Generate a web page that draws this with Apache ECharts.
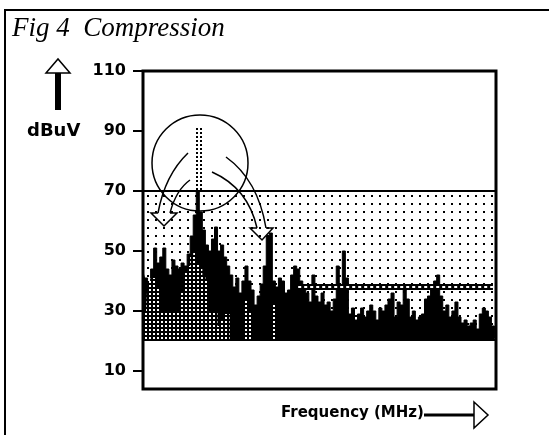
<!DOCTYPE html>
<html>
<head>
<meta charset="utf-8">
<script src="https://cdn.jsdelivr.net/npm/echarts@6/dist/echarts.min.js"></script>
<style>
  html, body { margin: 0; background: #fff; }
  #main { width: 549px; height: 435px; }
</style>
</head>
<body>
<div id="main"></div>
<script>
// spectrum level per frequency bin (dBuV), read left to right
var levels = [
  43, 41, 38, 44, 51, 46, 48, 51, 44, 42, 47, 45, 44, 46, 45, 49, 55, 62, 70, 63,
  57, 52, 50, 54, 58, 50, 52, 48, 45, 42, 38, 41, 36, 40, 45, 40, 37, 32, 35, 39,
  45, 55, 56, 40, 38, 41, 40, 36, 37, 42, 45, 44, 40, 38, 36, 33, 42, 35, 33, 36,
  32, 33, 30, 34, 45, 38, 50, 41, 29, 31, 27, 29, 31, 28, 30, 32, 30, 27, 31, 30,
  32, 34, 36, 28, 33, 32, 37, 34, 28, 30, 27, 28, 29, 34, 35, 37, 40, 42, 35, 30,
  32, 28, 30, 33, 28, 26, 27, 25, 26, 27, 24, 29, 31, 30, 28, 25, 21
];
// shaded (compressed) part of the signal
var compressed = [
  30, 30, 40, 41, 41, 38, 30, 30, 30, 30, 30, 30, 30, 36, 43, 45, 48, 50, 46, 44,
  42, 40, 30, 30, 30, 25, 27, 29, 29, null, null, null, null, null, 34, 30, null, null, null, null,
  null, null, null, 32, 33
];
var yTicks = [10, 30, 50, 70, 90, 110];
var floorLevel = 20;
var limitLevel = 70;
var avgLevel = 38;
var avgStart = 51;

var bins = levels.map(function (v, i) { return i; });

function pattern(size, draw) {
  var c = document.createElement('canvas');
  c.width = size; c.height = size;
  draw(c.getContext('2d'));
  return { image: c, repeat: 'repeat' };
}
var dots = pattern(8, function (ctx) {
  ctx.fillStyle = '#000';
  ctx.fillRect(3, 3, 2, 2);
});
var checker = pattern(4, function (ctx) {
  ctx.fillStyle = '#000';
  ctx.fillRect(0, 0, 4, 4);
  ctx.fillStyle = '#fff';
  ctx.fillRect(1, 1, 2, 2);
});

var myChart = echarts.init(document.getElementById('main'));

var sans = '"DejaVu Sans", Verdana, sans-serif';
var ink = { fill: 'none', stroke: '#000', lineWidth: 1.5 };

var option = {
  animation: false,
  grid: {
    left: 143, right: 53, top: 71, bottom: 46,
    show: true, borderColor: '#000', borderWidth: 3, backgroundColor: '#fff'
  },
  xAxis: {
    type: 'category',
    data: bins,
    boundaryGap: false,
    axisLine: { show: false },
    axisTick: { show: false },
    axisLabel: { show: false },
    splitLine: { show: false }
  },
  yAxis: {
    type: 'value',
    min: 4,
    max: 110,
    axisLine: { show: false },
    splitLine: { show: false },
    axisTick: {
      show: true, length: 10, customValues: yTicks,
      lineStyle: { color: '#000', width: 2 }
    },
    axisLabel: {
      customValues: yTicks, margin: 17,
      color: '#000', fontWeight: 'bold', fontSize: 16, fontFamily: sans
    }
  },
  series: [
    {
      // dotted band between floor and limit
      type: 'line', data: [], z: 1, silent: true,
      markArea: {
        silent: true,
        itemStyle: { color: dots },
        data: [[{ yAxis: floorLevel }, { yAxis: limitLevel }]]
      }
    },
    {
      name: 'spectrum',
      type: 'line', step: 'middle', data: levels, z: 2,
      symbol: 'none', silent: true,
      lineStyle: { color: '#000', width: 1 },
      areaStyle: { color: '#000', opacity: 1, origin: floorLevel }
    },
    {
      name: 'compressed',
      type: 'line', step: 'middle', data: compressed, z: 3,
      symbol: 'none', silent: true, connectNulls: false,
      lineStyle: { width: 0 },
      areaStyle: { color: checker, opacity: 1, origin: floorLevel }
    },
    {
      type: 'line', data: [], z: 4, silent: true,
      markLine: {
        silent: true,
        symbol: ['none', 'none'],
        label: { show: false },
        data: [
          { yAxis: limitLevel, lineStyle: { color: '#000', width: 2, type: 'solid' } },
          [
            { coord: [avgStart, avgLevel], lineStyle: { color: '#000', width: 6, type: 'solid' } },
            { coord: [levels.length - 2, avgLevel] }
          ],
          [
            { coord: [avgStart, avgLevel], lineStyle: { color: '#fff', width: 2, type: [3, 3] } },
            { coord: [levels.length - 2, avgLevel] }
          ]
        ]
      }
    }
  ],
  graphic: [
    { type: 'rect', shape: { x: 5, y: 10, width: 700, height: 600 },
      style: { fill: 'none', stroke: '#000', lineWidth: 2 }, silent: true },
    { type: 'text', x: 12, y: 15,
      style: { text: 'Fig 4  Compression', fill: '#000',
        font: 'italic 27px "Liberation Serif", "Times New Roman", serif' } },
    { type: 'text', x: 27, y: 122,
      style: { text: 'dBuV', fill: '#000', font: 'bold 18px ' + sans } },
    { type: 'rect', shape: { x: 55, y: 73, width: 6, height: 37 }, style: { fill: '#000' } },
    { type: 'polygon', shape: { points: [[46, 73], [58, 59], [70, 73]] },
      style: { fill: '#fff', stroke: '#000', lineWidth: 1.5 } },
    { type: 'text', x: 281, y: 406,
      style: { text: 'Frequency (MHz)', fill: '#000', font: 'bold 15px ' + sans } },
    { type: 'line', shape: { x1: 424, y1: 415, x2: 474, y2: 415 },
      style: { stroke: '#000', lineWidth: 3 } },
    { type: 'polygon', shape: { points: [[474, 402], [488, 415], [474, 428]] },
      style: { fill: '#fff', stroke: '#000', lineWidth: 1.5 } },
    // annotation: circled peak and the arrows pushing it down
    { type: 'circle', shape: { cx: 200, cy: 163, r: 48 }, z: 100, style: ink },
    { type: 'line', shape: { x1: 197, y1: 128, x2: 197, y2: 190 }, z: 100,
      style: { stroke: '#000', lineWidth: 2, lineDash: [2, 2] } },
    { type: 'line', shape: { x1: 201, y1: 128, x2: 201, y2: 190 }, z: 100,
      style: { stroke: '#000', lineWidth: 2, lineDash: [2, 2] } },
    { type: 'bezierCurve', z: 100, style: ink,
      shape: { x1: 188, y1: 153, cpx1: 165, cpy1: 175, x2: 158, y2: 213 } },
    { type: 'polyline', z: 100, style: ink,
      shape: { points: [[158, 213], [151, 213], [164, 226], [177, 213], [170, 213]] } },
    { type: 'bezierCurve', z: 100, style: ink,
      shape: { x1: 170, y1: 213, cpx1: 176, cpy1: 190, x2: 190, y2: 180 } },
    { type: 'bezierCurve', z: 100, style: ink,
      shape: { x1: 226, y1: 157, cpx1: 258, cpy1: 180, x2: 266, y2: 228 } },
    { type: 'polyline', z: 100, style: ink,
      shape: { points: [[266, 228], [273, 228], [262, 240], [250, 228], [257, 228]] } },
    { type: 'bezierCurve', z: 100, style: ink,
      shape: { x1: 257, y1: 228, cpx1: 248, cpy1: 188, x2: 212, y2: 172 } }
  ]
};

myChart.setOption(option);
</script>
</body>
</html>
